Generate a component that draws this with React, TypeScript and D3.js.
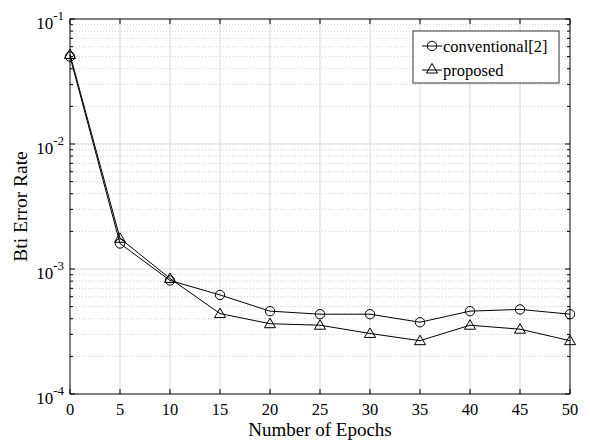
import React from "react";
import * as d3 from "d3";

const epochs = [0, 5, 10, 15, 20, 25, 30, 35, 40, 45, 50];
const conventional = [0.05, 1.6e-3, 8.1e-4, 6.2e-4, 4.6e-4, 4.35e-4, 4.35e-4, 3.75e-4, 4.6e-4, 4.75e-4, 4.35e-4];
const proposed = [0.052, 1.76e-3, 8.4e-4, 4.4e-4, 3.65e-4, 3.55e-4, 3.05e-4, 2.67e-4, 3.55e-4, 3.3e-4, 2.67e-4];
const xTicks = [0, 5, 10, 15, 20, 25, 30, 35, 40, 45, 50];
const yDecades = [-4, -3, -2, -1];

const W = 590;
const H = 441;
const m = { left: 70, right: 20, top: 19, bottom: 47 };
const font = "'Liberation Serif', 'Times New Roman', serif";

const Circle = ({ x, y }) => <circle cx={x} cy={y} r={4.7} fill="none" stroke="black" strokeWidth={1} />;
const Tri = ({ x, y }) => (
  <path d={`M${x},${y - 5.5}L${x + 5.5},${y + 4}L${x - 5.5},${y + 4}Z`} fill="none" stroke="black" strokeWidth={1} />
);

const App = () => {
  const x = d3.scaleLinear().domain([0, 50]).range([m.left, W - m.right]);
  const y = d3.scaleLog().domain([1e-4, 1e-1]).range([H - m.bottom, m.top]);
  const line = d3
    .line()
    .x((d) => x(d[0]))
    .y((d) => y(d[1]));

  const minors = [];
  yDecades.slice(0, 3).forEach((e) => {
    for (let k = 2; k <= 9; k++) minors.push(k * Math.pow(10, e));
  });

  const x0 = x(0), x1 = x(50), y0 = y(1e-4), y1 = y(1e-1);
  const convPts = epochs.map((e, i) => [e, conventional[i]]);
  const propPts = epochs.map((e, i) => [e, proposed[i]]);

  return (
    <svg width={W} height={H} style={{ position: "absolute", left: 0, top: 0, background: "white" }}>
      {/* grid */}
      {xTicks.slice(1, -1).map((t) => (
        <line key={"gx" + t} x1={x(t)} x2={x(t)} y1={y1} y2={y0} stroke="#d9d9d9" strokeWidth={1} />
      ))}
      {minors.map((v, i) => (
        <line key={"gm" + i} x1={x0} x2={x1} y1={y(v)} y2={y(v)} stroke="#d0d0d0" strokeWidth={1} strokeDasharray="1,2" />
      ))}
      {yDecades.slice(1, -1).map((e) => (
        <line key={"gy" + e} x1={x0} x2={x1} y1={y(Math.pow(10, e))} y2={y(Math.pow(10, e))} stroke="#d9d9d9" strokeWidth={1} />
      ))}

      {/* ticks */}
      {xTicks.map((t) => (
        <g key={"tx" + t}>
          <line x1={x(t)} x2={x(t)} y1={y0} y2={y0 - 5} stroke="black" />
          <line x1={x(t)} x2={x(t)} y1={y1} y2={y1 + 5} stroke="black" />
          <text x={x(t)} y={y0 + 21} textAnchor="middle" fontFamily={font} fontSize={16.5}>
            {t}
          </text>
        </g>
      ))}
      {minors.map((v, i) => (
        <g key={"tm" + i}>
          <line x1={x0} x2={x0 + 3} y1={y(v)} y2={y(v)} stroke="black" />
          <line x1={x1} x2={x1 - 3} y1={y(v)} y2={y(v)} stroke="black" />
        </g>
      ))}
      {yDecades.map((e) => (
        <g key={"ty" + e}>
          <line x1={x0} x2={x0 + 5} y1={y(Math.pow(10, e))} y2={y(Math.pow(10, e))} stroke="black" />
          <line x1={x1} x2={x1 - 5} y1={y(Math.pow(10, e))} y2={y(Math.pow(10, e))} stroke="black" />
          <text x={x0 - 6} y={y(Math.pow(10, e)) + 10} textAnchor="end" fontFamily={font} fontSize={17}>
            10
            <tspan dy={-9} fontSize={13}>
              {e}
            </tspan>
          </text>
        </g>
      ))}

      <rect x={x0} y={y1} width={x1 - x0} height={y0 - y1} fill="none" stroke="black" strokeWidth={1} />

      {/* series */}
      <path d={line(convPts)} fill="none" stroke="black" strokeWidth={1} />
      <path d={line(propPts)} fill="none" stroke="black" strokeWidth={1} />
      {convPts.map((d, i) => (
        <Circle key={"c" + i} x={x(d[0])} y={y(d[1])} />
      ))}
      {propPts.map((d, i) => (
        <Tri key={"p" + i} x={x(d[0])} y={y(d[1])} />
      ))}

      {/* legend */}
      <g>
        <rect x={413} y={31} width={146} height={52} fill="white" stroke="#333" strokeWidth={1} />
        <line x1={422} x2={442} y1={46} y2={46} stroke="black" />
        <Circle x={432} y={46} />
        <text x={443} y={51.5} fontFamily={font} fontSize={16.5}>conventional[2]</text>
        <line x1={422} x2={442} y1={70} y2={70} stroke="black" />
        <Tri x={432} y={69} />
        <text x={443} y={75.5} fontFamily={font} fontSize={16.5}>proposed</text>
      </g>

      {/* axis labels */}
      <text x={(x0 + x1) / 2} y={436} textAnchor="middle" fontFamily={font} fontSize={19}>
        Number of Epochs
      </text>
      <text
        transform={`translate(27 ${(y0 + y1) / 2}) rotate(-90)`}
        textAnchor="middle"
        fontFamily={font}
        fontSize={19.5}
      >
        Bti Error Rate
      </text>
    </svg>
  );
};

export default App;
